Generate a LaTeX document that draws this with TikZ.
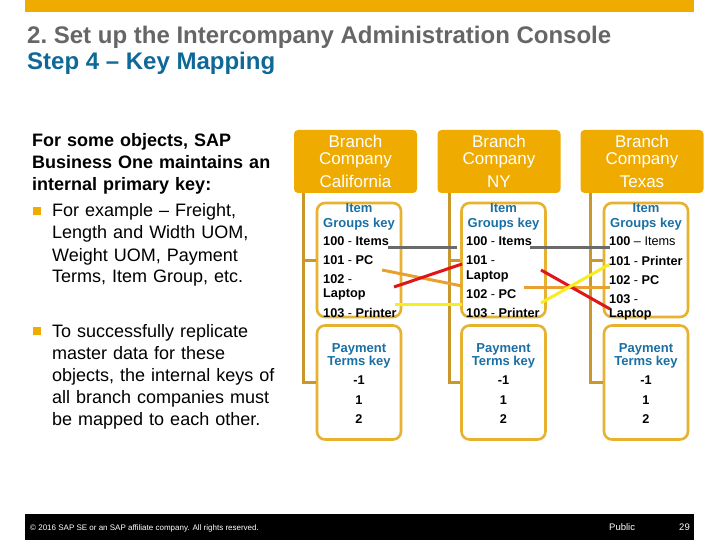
\documentclass[tikz,border=0pt]{standalone}
\usepackage{fontspec}
\setmainfont{Liberation Sans}
\usetikzlibrary{calc}
\definecolor{sapgold}{HTML}{F0AB00}
\definecolor{treegold}{HTML}{C9972B}
\definecolor{boxgold}{HTML}{E6B230}
\definecolor{titlegray}{HTML}{666666}
\definecolor{sapblue}{HTML}{0E6898}
\definecolor{keyblue}{HTML}{1A6FA6}
\definecolor{mapgray}{HTML}{6A6A6A}
\definecolor{maporange}{HTML}{E8A030}
\definecolor{mapred}{HTML}{E0151A}
\definecolor{mapyellow}{HTML}{F7EE20}
\newcommand\myfs[2]{\fontsize{#1}{#2}\selectfont}
\begin{document}
\begin{tikzpicture}[x=1pt,y=-1pt,
  tree/.style={draw=treegold, line width=3pt},
  keybox/.style={draw=boxgold, line width=2.6pt, fill=white, rounded corners=8pt, minimum width=84pt, minimum height=114pt, inner sep=0pt},
  hdr/.style={fill=sapgold, rounded corners=4pt, minimum width=123pt, minimum height=63pt, text=white, align=center, inner sep=0pt, font=\myfs{17}{16.5}},
  keytitle/.style={text=keyblue, font=\myfs{13}{14}\bfseries, inner sep=0pt, anchor=base},
  entry/.style={font=\myfs{12.7}{14}\bfseries, inner sep=0pt, anchor=base west},
  payval/.style={font=\myfs{12.7}{14}\bfseries, inner sep=0pt, anchor=base},
  mapline/.style={line width=3pt},
  bulletsq/.style={fill=sapgold, minimum size=8pt, inner sep=0pt},
  bodytext/.style={inner sep=0pt, anchor=base west, align=left, text width=260pt}
]
\useasboundingbox (0,0) rectangle (720,540);
\fill[white] (0,0) rectangle (720,540);
% top bar
\fill[sapgold] (25,0) rectangle (694,12);
% titles
\node[anchor=base west, inner sep=0pt, text=titlegray, font=\myfs{24}{28}\bfseries] (title) at (27,44) {2.\ Set up the Intercompany Administration Console};
\node[anchor=base west, inner sep=0pt, text=sapblue, font=\myfs{24}{28}\bfseries] (subtitle) at (27,70) {Step 4 – Key Mapping};
% left text
\node[bodytext, font=\myfs{18}{22}\bfseries] (intro) at (32,147) {For some objects, SAP\\Business One maintains an\\internal primary key:};
\node[bulletsq] (b1) at (37,211) {};
\node[bodytext, font=\myfs{18}{22}] (t1) at (52,217) {For example – Freight,\\Length and Width UOM,\\Weight UOM, Payment\\Terms, Item Group, etc.};
\node[bulletsq] (b2) at (37,331) {};
\node[bodytext, font=\myfs{18}{22}] (t2) at (52,337) {To successfully replicate\\master data for these\\objects, the internal keys of\\all branch companies must\\be mapped to each other.};
% headers
\node[hdr] (hCA) at (355.5,161.5) {Branch\\Company\\[7pt]California};
\node[hdr] (hNY) at (499,161.5) {Branch\\Company\\[7pt]NY};
\node[hdr] (hTX) at (642,161.5) {Branch\\Company\\[7pt]Texas};
% key boxes
\node[keybox] (igCA) at (359,260) {};
\node[keybox] (igNY) at (503.5,260) {};
\node[keybox] (igTX) at (646,260) {};
\node[keybox] (ptCA) at (359,382.5) {};
\node[keybox] (ptNY) at (503.5,382.5) {};
\node[keybox] (ptTX) at (646,382.5) {};
% tree connectors
\coordinate (rCA) at ($(hCA.south west)+(10,0)$);
\coordinate (rNY) at ($(hNY.south west)+(12,0)$);
\coordinate (rTX) at ($(hTX.south west)+(10,0)$);
\draw[tree] (rCA) |- (igCA.west);
\draw[tree] (rCA) |- (ptCA.west);
\draw[tree] (rNY) |- (igNY.west);
\draw[tree] (rNY) |- (ptNY.west);
\draw[tree] (rTX) |- (igTX.west);
\draw[tree] (rTX) |- (ptTX.west);
% mapping line end points
\coordinate (gA1) at (388,247); \coordinate (gA2) at (457,247);
\coordinate (gB1) at (530,247); \coordinate (gB2) at (610,247);
\coordinate (oA1) at (382,270); \coordinate (oA2) at (462,286);
\coordinate (rA1) at (394,287); \coordinate (rA2) at (462,264);
\coordinate (yA1) at (395,304); \coordinate (yA2) at (462,304);
\coordinate (oB1) at (524,287); \coordinate (oB2) at (610,287);
\coordinate (rB1) at (541,270); \coordinate (rB2) at (610,309);
\coordinate (yB1) at (541,303); \coordinate (yB2) at (610,264);
\draw[mapline, draw=mapgray] (gA1) -- (gA2);
\draw[mapline, draw=mapgray] (gB1) -- (gB2);
\draw[mapline, draw=maporange] (oA1) -- (oA2);
\draw[mapline, draw=mapred] (rA1) -- (rA2);
\draw[mapline, draw=mapyellow] (yA1) -- (yA2);
\draw[mapline, draw=maporange] (oB1) -- (oB2);
\draw[mapline, draw=mapred] (rB1) -- (rB2);
\draw[mapline, draw=mapyellow] (yB1) -- (yB2);
% item group texts
\node[keytitle] (itCA1) at (359,212) {Item};
\node[keytitle] (itCA2) at (359,227) {Groups key};
\node[keytitle] (itNY1) at (503.5,212) {Item};
\node[keytitle] (itNY2) at (503.5,227) {Groups key};
\node[keytitle] (itTX1) at (646,212) {Item};
\node[keytitle] (itTX2) at (646,227) {Groups key};
\node[entry] (ca100) at (323,245) {100 \mdseries-\bfseries{} Items};
\node[entry] (ca101) at (323,264) {101 \mdseries-\bfseries{} PC};
\node[entry] (ca102) at (323,283) {102 \mdseries-};
\node[entry] (ca102b) at (323,297) {Laptop};
\node[entry] (ca103) at (323,317) {103 \mdseries-\bfseries{} Printer};
\node[entry] (ny100) at (466,245) {100 \mdseries-\bfseries{} Items};
\node[entry] (ny101) at (466,264) {101 \mdseries-};
\node[entry] (ny101b) at (466,279) {Laptop};
\node[entry] (ny102) at (466,298) {102 \mdseries-\bfseries{} PC};
\node[entry] (ny103) at (466,317) {103 \mdseries-\bfseries{} Printer};
\node[entry] (tx100) at (609,245) {100 \mdseries– Items};
\node[entry] (tx101) at (609,265) {101 \mdseries-\bfseries{} Printer};
\node[entry] (tx102) at (609,284) {102 \mdseries-\bfseries{} PC};
\node[entry] (tx103) at (609,303) {103 \mdseries-};
\node[entry] (tx103b) at (609,317) {Laptop};
% payment terms texts
\foreach \b/\x in {CA/359, NY/503.5, TX/646}{
  \node[keytitle] (pt\b1) at (\x,352) {Payment};
  \node[keytitle] (pt\b2) at (\x,365) {Terms key};
  \node[payval] (pv\b1) at (\x,384) {-1};
  \node[payval] (pv\b2) at (\x,404) {1};
  \node[payval] (pv\b3) at (\x,423) {2};
}
% footer
\fill[black] (25,514) rectangle (694,540);
\node[anchor=base west, inner sep=0pt, text=white, font=\myfs{8}{9}] (copy) at (30,530) {© 2016 SAP SE or an SAP affiliate company. All rights reserved.};
\node[anchor=base west, inner sep=0pt, text=white, font=\myfs{9.5}{10}] (pub) at (609,530) {Public};
\node[anchor=base east, inner sep=0pt, text=white, font=\myfs{9.5}{10}] (pg) at (690,530) {29};
\end{tikzpicture}
\end{document}
